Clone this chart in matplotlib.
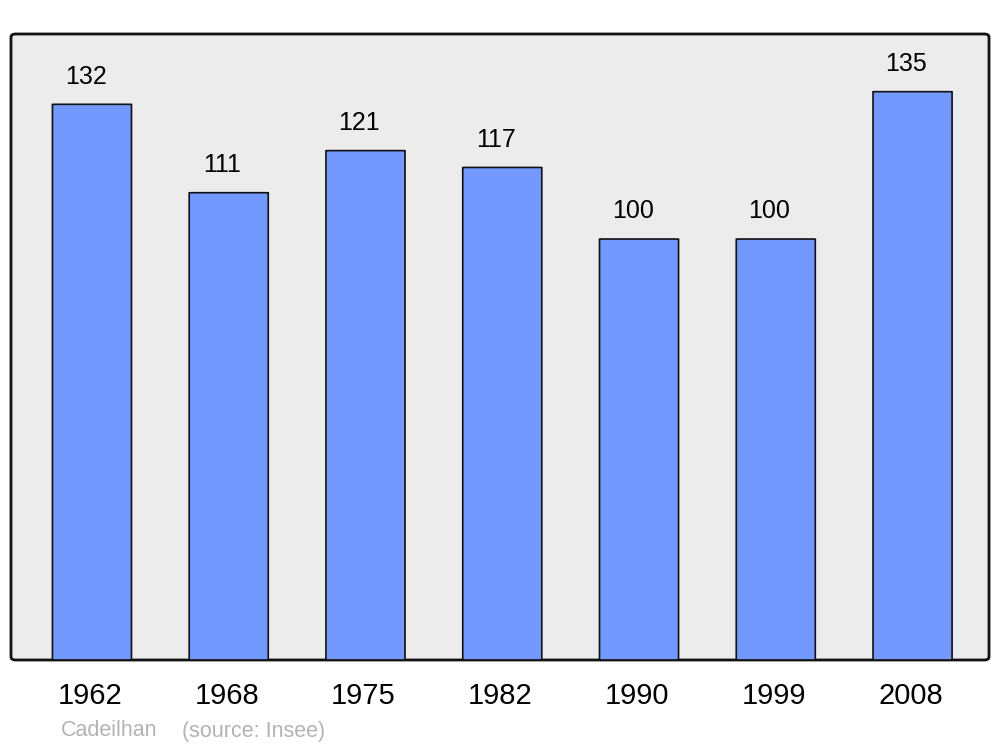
import matplotlib.pyplot as plt
import matplotlib.transforms as mtransforms
from matplotlib.patches import FancyBboxPatch

years = ['1962', '1968', '1975', '1982', '1990', '1999', '2008']
population = [132, 111, 121, 117, 100, 100, 135]

plt.rcParams['font.family'] = ['Liberation Sans', 'DejaVu Sans']

fig = plt.figure(figsize=(10, 7.47), dpi=100)
fig.patch.set_facecolor('white')
ax = fig.add_axes([0.011, 1 - 660 / 747, 0.978, 626 / 747])
ax.set_facecolor('none')
for s in ax.spines.values():
    s.set_visible(False)

# rounded panel
panel = FancyBboxPatch((0, 0), 1, 1, boxstyle='round,pad=0,rounding_size=0.005',
                       transform=ax.transAxes, facecolor='#ececec',
                       edgecolor='#111111', linewidth=2, zorder=0, clip_on=False)
ax.add_patch(panel)

x = list(range(len(years)))
bw = 0.578
for xi, val in zip(x, population):
    bar = FancyBboxPatch((xi - bw / 2, 0), bw, val,
                         boxstyle='round,pad=0,rounding_size=0.02',
                         mutation_aspect=4.21 / 136.75 * 60,
                         facecolor='#7399ff', edgecolor='#111111',
                         linewidth=1.2, zorder=2)
    ax.add_patch(bar)
    ax.annotate(str(val), (xi, val), xytext=(-4.5, 20), textcoords='offset points',
                ha='center', va='center', fontsize=18, color='black')

ax.set_xlim(-0.592, 6.559)
ax.set_ylim(0, 148.7)
ax.set_xticks(x)
ax.set_xticklabels(years, fontsize=21)
ax.tick_params(axis='x', length=0, pad=16)
shift = mtransforms.ScaledTranslation(-2 / 100, 0, fig.dpi_scale_trans)
for lbl in ax.get_xticklabels():
    lbl.set_transform(lbl.get_transform() + shift)
ax.set_yticks([])

fig.text(0.061, 1 - 731 / 747, 'Cadeilhan', fontsize=15.5, color='#b3b3b3',
         ha='left', va='center')
fig.text(0.182, 1 - 731 / 747, '(source: Insee)', fontsize=15.5, color='#b3b3b3',
         ha='left', va='center')

plt.savefig('out.png', dpi=100)
